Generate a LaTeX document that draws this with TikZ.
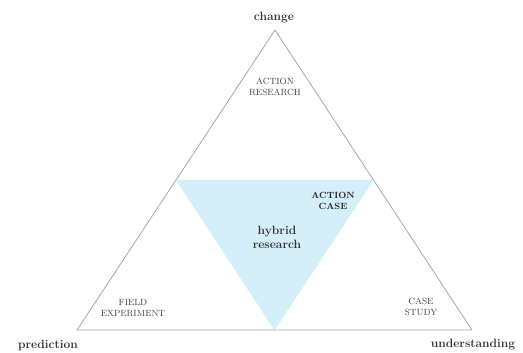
\documentclass[tikz,border=0pt]{standalone}
\usetikzlibrary{calc}
\definecolor{hybridblue}{RGB}{212,239,249}

\begin{document}
\begin{tikzpicture}[
                x=1pt, y=-1pt,
                corner/.style={font=\bfseries\large, text=black!80, inner sep=1pt},
                method/.style={font=\small, text=black!75, align=center, inner sep=1pt},
                boldmethod/.style={font=\small\bfseries, text=black!85, align=center, inner sep=1pt},
                hybrid/.style={font=\large\bfseries, text=black!80, align=center, inner sep=1pt}
            ]
            \useasboundingbox (0,0) rectangle (523,353);

            % outer triangle corners
            \coordinate (P) at (77,330);
            \coordinate (U) at (472,330);
            \coordinate (C) at (275,30);

            % hybrid region (middle triangle)
            \fill[hybridblue, draw=cyan!15] ($(P)!0.5!(C)$) -- ($(U)!0.5!(C)$) -- ($(P)!0.5!(U)$) -- cycle;
            \draw[gray!70, thick, line join=round] (P) -- (U) -- (C) -- cycle;

            % corner labels
            \node[corner] (change) at (274,18) {change};
            \node[corner] (prediction) at (48,345) {prediction};
            \node[corner] (understanding) at (473,345) {understanding};

            % methods
            \node[method] (AR) at (275,87) {ACTION\\RESEARCH};
            \node[boldmethod] (AC) at (333,201) {ACTION\\CASE};
            \node[hybrid] (HR) at (277,237) {hybrid\\research};
            \node[method] (FE) at (133,308) {FIELD\\EXPERIMENT};
            \node[method] (CS) at (421,307) {CASE\\STUDY};
            \end{tikzpicture}
\end{document}
